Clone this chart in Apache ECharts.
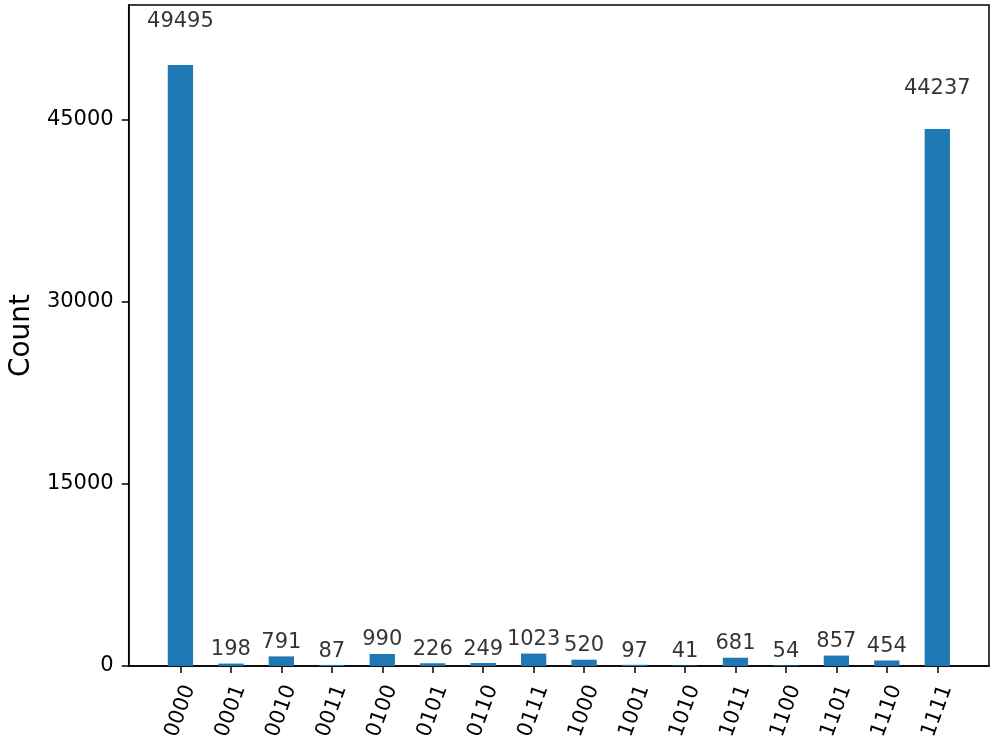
<!DOCTYPE html>
<html><head><meta charset="utf-8">
<script src="https://cdn.jsdelivr.net/npm/echarts@6/dist/echarts.min.js"></script>
<style>html,body{margin:0;padding:0;background:#fff}#c{width:996px;height:747px}</style>
</head><body><div id="c"></div>
<script>
const categories = ['0000','0001','0010','0011','0100','0101','0110','0111','1000','1001','1010','1011','1100','1101','1110','1111'];
const counts = [49495,198,791,87,990,226,249,1023,520,97,41,681,54,857,454,44237];
const yTicks = [0,15000,30000,45000];
const yMax = 54444.5;

const idx = categories.map((c,i)=>i);
const FONT = 'DejaVu Sans';
const chart = echarts.init(document.getElementById('c'), null, {renderer:'canvas'});
chart.setOption({
  animation:false,
  backgroundColor:'#fff',
  grid:{left:127.5, top:5, width:861.5, height:661, show:true, borderColor:'#000', borderWidth:1.5, backgroundColor:'transparent'},
  xAxis:{
    type:'value', min:-1.025, max:16.025,
    splitLine:{show:false},
    axisLine:{show:true, onZero:false, lineStyle:{color:'#000', width:1.5}},
    axisTick:{show:true, length:7, lineStyle:{color:'#000', width:1.5}, customValues:idx},
    axisLabel:{show:true, rotate:70, align:'center', verticalAlign:'middle', margin:45, color:'#000', fontFamily:FONT, fontSize:21,
      customValues:idx, formatter:v=>categories[Math.round(v)]}
  },
  yAxis:{
    type:'value', min:0, max:yMax,
    name:'Count', nameLocation:'middle', nameGap:90,
    nameTextStyle:{color:'#000', fontFamily:FONT, fontSize:28},
    splitLine:{show:false},
    axisLine:{show:true, onZero:false, lineStyle:{color:'#000', width:1.5}},
    axisTick:{show:true, length:7, lineStyle:{color:'#000', width:1.5}, customValues:yTicks},
    axisLabel:{show:true, margin:15, color:'#000', fontFamily:FONT, fontSize:21, customValues:yTicks, formatter:v=>String(v)}
  },
  series:[
    {type:'bar', data:counts.map((v,i)=>[i,v]), barWidth:25.3, itemStyle:{color:'#1f77b4'}},
    {type:'scatter', data:counts.map((v,i)=>[i,v*1.05]), symbolSize:0, silent:true,
      label:{show:true, position:'top', distance:3, color:'#000', fontFamily:FONT, fontSize:21,
        formatter:p=>String(counts[p.dataIndex])}}
  ]
});
</script></body></html>
